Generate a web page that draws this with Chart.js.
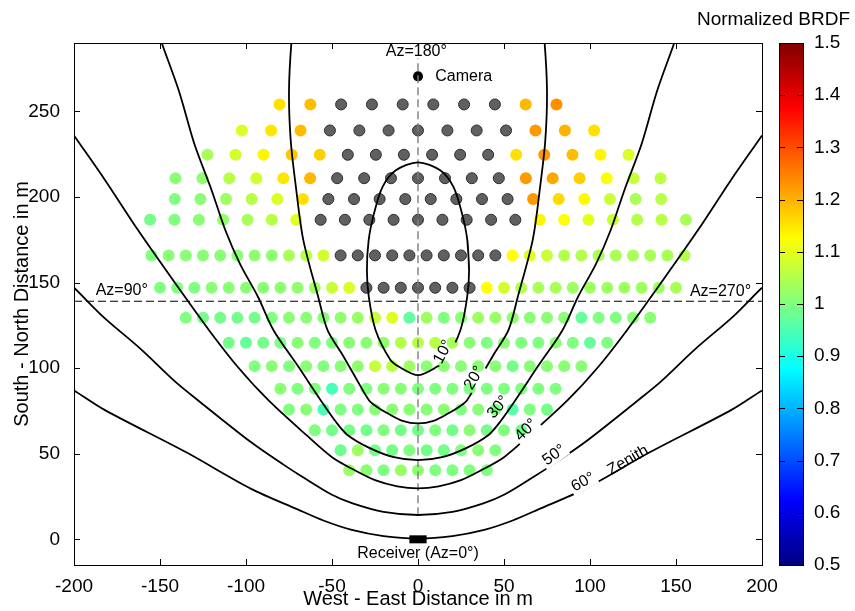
<!DOCTYPE html>
<html lang="en">
<head>
<meta charset="UTF-8">
<title>Normalized BRDF map</title>
<script src="https://cdn.jsdelivr.net/npm/chart.js"></script>
<style>
  body { margin: 0; background: #fff; }
  #wrap { position: relative; width: 855px; height: 611px; }
  #wrap canvas { position: absolute; top: 0; }
</style>
</head>
<body>
<div id="wrap">
  <canvas id="map" width="855" height="611" style="left:0"></canvas>
  <canvas id="bar" width="175" height="611" style="left:680px"></canvas>
</div>
<script>
// south-north position of each row of spots (m)
const rowY = [254.1, 238.9, 224.7, 211.0, 198.8, 186.7, 165.9, 147.0, 129.5, 114.9, 101.2, 88.0, 75.8, 63.7, 52.0, 40.3];

// west-east position of the spots in each row (m)
const rowX = [
  [-80.5, -62.6, -44.7, -26.8, -8.9, 8.9, 26.8, 44.7, 62.6, 80.5],
  [-102.4, -85.4, -68.3, -51.2, -34.1, -17.1, 0, 17.1, 34.1, 51.2, 68.3, 85.4, 102.4],
  [-122.4, -106.1, -89.8, -73.4, -57.1, -40.8, -24.5, -8.2, 8.2, 24.5, 40.8, 57.1, 73.4, 89.8, 106.1, 122.4],
  [-141, -125.3, -109.7, -94, -78.3, -62.7, -47, -31.3, -15.7, 0, 15.7, 31.3, 47, 62.7, 78.3, 94, 109.7, 125.3, 141],
  [-141.4, -126.5, -111.6, -96.7, -81.8, -66.9, -52.1, -37.2, -22.3, -7.4, 7.4, 22.3, 37.2, 52.1, 66.9, 81.8, 96.7, 111.6, 126.5, 141.4],
  [-155.8, -141.6, -127.4, -113.3, -99.1, -85, -70.8, -56.6, -42.5, -28.3, -14.2, 0, 14.2, 28.3, 42.5, 56.6, 70.8, 85, 99.1, 113.3, 127.4, 141.6, 155.8],
  [-155, -145, -135, -125, -115, -105, -95, -85, -75, -65, -55, -45, -35, -25, -15, -5, 5, 15, 25, 35, 45, 55, 65, 75, 85, 95, 105, 115, 125, 135, 145, 155],
  [-150, -140, -130, -120, -110, -100, -90, -80, -70, -60, -50, -40, -30, -20, -10, 0, 10, 20, 30, 40, 50, 60, 70, 80, 90, 100, 110, 120, 130, 140, 150],
  [-135, -125, -115, -105, -95, -85, -75, -65, -55, -45, -35, -25, -15, -5, 5, 15, 25, 35, 45, 55, 65, 75, 85, 95, 105, 115, 125, 135],
  [-110, -100, -90, -80, -70, -60, -50, -40, -30, -20, -10, 0, 10, 20, 30, 40, 50, 60, 70, 80, 90, 100, 110],
  [-95, -85, -75, -65, -55, -45, -35, -25, -15, -5, 5, 15, 25, 35, 45, 55, 65, 75, 85, 95],
  [-80, -70, -60, -50, -40, -30, -20, -10, 0, 10, 20, 30, 40, 50, 60, 70, 80],
  [-75, -65, -55, -45, -35, -25, -15, -5, 5, 15, 25, 35, 45, 55, 65, 75],
  [-60, -50, -40, -30, -20, -10, 0, 10, 20, 30, 40, 50, 60],
  [-45, -35, -25, -15, -5, 5, 15, 25, 35, 45],
  [-40, -30, -20, -10, 0, 10, 20, 30, 40]
];

// normalized BRDF of each spot, null = no value (grey spot)
const brdf = [
  [1.155, 1.19, null, null, null, null, null, null, 1.195, 1.235],
  [1.09, 1.15, 1.19, null, null, null, null, null, null, null, 1.225, 1.2, 1.155],
  [1.04, 1.08, 1.135, 1.18, 1.17, null, null, null, null, null, null, 1.155, 1.225, 1.19, 1.135, 1.09],
  [1.01, 1.016, 1.055, 1.08, 1.15, 1.195, null, null, null, null, null, null, null, 1.225, 1.21, 1.17, 1.12, 1.07, 1.06],
  [1.0, 1.01, 1.03, 1.055, 1.09, 1.155, null, null, null, null, null, null, null, null, 1.225, 1.16, 1.13, 1.07, 1.04, 1.055],
  [0.99, 1.0, 1.01, 1.016, 1.04, 1.055, 1.095, null, null, null, null, null, null, null, null, null, 1.135, 1.125, 1.1, 1.07, 1.05, 1.055, 1.04],
  [1.0, 1.01, 1.01, 1.01, 1.01, 1.01, 1.016, 1.016, 1.04, 1.055, 1.08, null, null, null, null, null, null, null, null, null, null, 1.125, 1.095, 1.07, 1.05, 1.05, 1.04, 1.04, 1.04, 1.04, 1.04, 1.05],
  [1.0, 1.0, 1.0, 1.01, 1.01, 1.01, 1.01, 1.016, 1.016, 1.03, 1.07, 1.09, null, null, null, null, null, null, null, 1.125, 1.08, 1.05, 1.04, 1.04, 1.03, 1.03, 1.03, 1.03, 1.03, 1.03, 1.04],
  [1.0, 0.99, 0.99, 0.99, 0.99, 1.0, 1.01, 1.01, 1.01, 1.016, 1.025, 1.07, 1.095, 0.97, 1.03, 1.0, 1.01, 1.03, 1.025, 1.016, 1.01, 1.01, 1.01, 0.975, 1.0, 1.0, 1.01, 1.01],
  [0.99, 0.975, 0.99, 1.0, 1.01, 1.0, 1.0, 1.01, 1.01, 1.016, 1.05, 1.055, 1.055, 1.04, 1.01, 1.0, 1.01, 1.0, 1.0, 1.01, 1.0, 0.975, 1.0],
  [1.0, 1.01, 1.0, 1.01, 1.0, 1.01, 1.016, 1.07, 1.055, 1.03, 1.01, 1.01, 1.01, 1.01, 1.01, 0.99, 1.01, 1.01, 1.01, 1.01],
  [1.01, 1.0, 1.0, 0.945, 1.0, 1.0, 1.01, 1.01, 1.0, 1.0, 1.0, 1.0, 1.0, 1.0, 1.0, 1.0, 1.0],
  [1.0, 1.01, 0.95, 1.0, 1.0, 1.01, 1.01, 1.01, 1.01, 1.01, 1.0, 1.01, 1.0, 0.96, 1.0, 0.99],
  [1.0, 0.99, 0.99, 0.99, 1.0, 0.99, 0.99, 1.0, 0.99, 1.01, 0.99, 1.0, 0.99],
  [0.985, 1.03, 0.99, 0.99, 1.0, 0.99, 0.99, 1.0, 1.01, 1.0],
  [1.025, 1.01, 1.0, 1.025, 1.016, 1.0, 1.0, 1.0, 1.0]
];

// zenith angle contours [x, y] in m
const zen10 = [[29.7,157.2],[28.7,174.7],[25.6,190.3],[20.6,205.9],[12.9,215.6],[0,220.3],[-12.9,215.6],[-20.6,205.9],[-25.6,190.3],[-28.7,174.7],[-29.7,157.2],[-28.6,141.6],[-24.7,122.3],[-16.1,104.9],[-11,100.8],[0,95.9],[11,100.8],[16.1,104.9],[24.7,122.3],[28.6,141.6],[29.7,157.2],[28.7,174.7]];
const zen20 = [[-72,300],[-73.5,291.5],[-75,262],[-74,233],[-71,206],[-66.7,175],[-58,141.6],[-52.6,122.2],[-44,108],[-36,94],[-28.5,81.3],[-24,77.5],[-17.5,73.5],[-9,69.2],[0,67.7],[9,69.2],[17.5,73.5],[24,77.5],[28.5,81.3],[36,94],[44,108],[52.6,122.2],[58,141.6],[66.7,175],[71,206],[74,233],[75,262],[73.5,291.5],[72,300]];
const zen30 = [[-152,300],[-149.5,291.5],[-139,262],[-130,231],[-120,204],[-112,180.6],[-103.5,161],[-93,141.6],[-84,122.2],[-70,101.5],[-56.6,81.3],[-48,69],[-41,61],[-28,53.3],[-14,48],[0,46.3],[14,48],[28,53.3],[41,61],[48,69],[56.6,81.3],[70,101.5],[84,122.2],[93,141.6],[103.5,161],[112,180.6],[120,204],[130,231],[139,262],[149.5,291.5],[152,300]];
const zen40 = [[-206,245],[-200,236],[-182,210],[-163,181],[-140,148],[-121.5,122.2],[-105,101],[-87,81.3],[-65,61],[-50,48],[-37,40.5],[-25,34.6],[-12,31],[0,29.8],[12,31],[25,34.6],[37,40.5],[50,48],[65,61],[87,81.3],[105,101],[121.5,122.2],[140,148],[163,181],[182,210],[200,236],[206,245]];
const zen50 = [[-206,152],[-200,147],[-183,130],[-161,111],[-141,92],[-128,81.3],[-97.4,57],[-78,43.5],[-68,37],[-50,26],[-38,21],[-20,16],[0,14.2],[20,16],[38,21],[50,26],[68,37],[78,43.5],[97.4,57],[128,81.3],[141,92],[161,111],[183,130],[200,147],[206,152]];
const zen60 = [[-206,90.5],[-200,87],[-182,75.5],[-135,51],[-97,29.5],[-70,17.5],[-55,11],[-38.5,5.5],[-20,1.9],[0,0.5],[20,1.9],[38.5,5.5],[55,11],[70,17.5],[97,29.5],[135,51],[182,75.5],[200,87],[206,90.5]];

const zenLabels = [
  { text: '10°', x: 14.7, y: 109.5, angle: -62, gap: true },
  { text: '20°', x: 32.7, y: 94.2, angle: -60, gap: true },
  { text: '30°', x: 46.6, y: 77.2, angle: -50, gap: true },
  { text: '40°', x: 62.9, y: 63.8, angle: -44, gap: true },
  { text: '50°', x: 79.1, y: 49.2, angle: -35, gap: true },
  { text: '60°', x: 96, y: 33.4, angle: -28, gap: true },
  { text: 'Zenith', x: 122.1, y: 46.2, angle: -30, gap: false }
];

const notes = [
  { text: 'Az=180°', x: -1, y: 284.7, align: 'center' },
  { text: 'Camera', x: 10, y: 270.2, align: 'left' },
  { text: 'Az=90°', x: -187.4, y: 145.6, align: 'left' },
  { text: 'Az=270°', x: 158.1, y: 144.6, align: 'left' },
  { text: 'Receiver (Az=0°)', x: 0, y: -8.6, align: 'center' }
];

const camera = [{ x: 0, y: 270.5 }];
const receiver = [{ x: -5, y: 0 }, { x: 5, y: 0 }];
const azNorth = [{ x: 0, y: 14 }, { x: 0, y: 281 }];
const azEastWest = [{ x: -200, y: 139.1 }, { x: 200, y: 139.1 }];

const FONT = "'Liberation Sans', Arial, sans-serif";
Chart.defaults.font.family = FONT;
Chart.defaults.color = '#000';

function jet(v) {
  const t = Math.min(1, Math.max(0, v - 0.5));
  const f = c => Math.round(255 * Math.min(1, Math.max(0, 1.5 - Math.abs(4 * t - c))));
  return 'rgb(' + f(3) + ',' + f(2) + ',' + f(1) + ')';
}

const spots = [];
rowY.forEach((y, i) => rowX[i].forEach((x, j) => spots.push({ x: x, y: y, v: brdf[i][j] })));

function curve(pts) {
  return {
    data: pts.map(p => ({ x: p[0], y: p[1] })),
    showLine: true, gapped: true, pointRadius: 0, borderColor: '#000',
    borderWidth: 1.8, tension: 0.3, clip: 0, order: 0
  };
}

function labelBox(ctx, l, xs, ys) {
  const w = ctx.measureText(l.text).width / 2 + 2, h = 8;
  const cx = xs.getPixelForValue(l.x), cy = ys.getPixelForValue(l.y);
  const a = l.angle * Math.PI / 180, c = Math.cos(a), s = Math.sin(a);
  return [[-w, -h], [w, -h], [w, h], [-w, h]].map(p => [cx + p[0] * c - p[1] * s, cy + p[0] * s + p[1] * c]);
}

const mapDecor = {
  id: 'mapDecor',
  beforeDatasetDraw(chart, args) {
    if (!chart.data.datasets[args.index].gapped) return;
    const { ctx, scales } = chart;
    ctx.save();
    ctx.font = '16px ' + FONT;
    ctx.beginPath();
    ctx.rect(0, 0, chart.width, chart.height);
    zenLabels.filter(l => l.gap).forEach(l => {
      const b = labelBox(ctx, l, scales.x, scales.y);
      ctx.moveTo(b[0][0], b[0][1]);
      for (let k = 1; k < 4; k++) ctx.lineTo(b[k][0], b[k][1]);
      ctx.closePath();
    });
    ctx.clip('evenodd');
  },
  afterDatasetDraw(chart, args) {
    if (chart.data.datasets[args.index].gapped) chart.ctx.restore();
  },
  afterDatasetsDraw(chart) {
    const { ctx, scales: { x, y } } = chart;
    ctx.save();
    ctx.fillStyle = '#000';
    ctx.font = '16px ' + FONT;
    ctx.textBaseline = 'middle';
    notes.forEach(n => {
      ctx.textAlign = n.align;
      ctx.fillText(n.text, x.getPixelForValue(n.x), y.getPixelForValue(n.y));
    });
    ctx.textAlign = 'center';
    zenLabels.forEach(l => {
      ctx.save();
      ctx.translate(x.getPixelForValue(l.x), y.getPixelForValue(l.y));
      ctx.rotate(l.angle * Math.PI / 180);
      ctx.fillText(l.text, 0, 0);
      ctx.restore();
    });
    ctx.restore();
  },
  afterDraw(chart) {
    const { ctx, chartArea: a, scales: { x, y } } = chart;
    ctx.save();
    ctx.strokeStyle = '#000';
    ctx.lineWidth = 1;
    ctx.strokeRect(Math.round(a.left) + 0.5, Math.round(a.top) + 0.5, Math.round(a.right - a.left), Math.round(a.bottom - a.top));
    ctx.beginPath();
    x.ticks.forEach(t => {
      const px = Math.round(x.getPixelForValue(t.value)) + 0.5;
      ctx.moveTo(px, a.bottom); ctx.lineTo(px, a.bottom - 6);
      ctx.moveTo(px, a.top); ctx.lineTo(px, a.top + 6);
    });
    y.ticks.forEach(t => {
      const py = Math.round(y.getPixelForValue(t.value)) + 0.5;
      ctx.moveTo(a.left, py); ctx.lineTo(a.left + 6, py);
      ctx.moveTo(a.right, py); ctx.lineTo(a.right - 6, py);
    });
    ctx.stroke();
    ctx.restore();
  }
};

new Chart(document.getElementById('map'), {
  type: 'scatter',
  data: {
    datasets: [
      curve(zen10), curve(zen20), curve(zen30), curve(zen40), curve(zen50), curve(zen60),
      { data: azNorth, showLine: true, pointRadius: 0, borderColor: '#808080', borderWidth: 1.4, borderDash: [8, 4], order: 1 },
      { data: azEastWest, showLine: true, pointRadius: 0, borderColor: '#000', borderWidth: 1.1, borderDash: [8, 4], order: 1 },
      { data: receiver, showLine: true, pointRadius: 0, borderColor: '#000', borderWidth: 8, borderCapStyle: 'butt', order: 1 },
      { data: camera, pointRadius: 5, backgroundColor: '#000', borderWidth: 0, order: 1 },
      {
        data: spots, order: 2,
        pointRadius: c => c.raw && c.raw.v === null ? 5.5 : 6,
        pointBackgroundColor: c => c.raw && c.raw.v !== null ? jet(c.raw.v) : '#606060',
        pointBorderColor: c => c.raw && c.raw.v !== null ? jet(c.raw.v) : '#2e2e2e',
        pointBorderWidth: c => c.raw && c.raw.v === null ? 1 : 0
      }
    ]
  },
  options: {
    responsive: false,
    animation: false,
    events: [],
    layout: { padding: { top: 43, right: 93, left: 0, bottom: 0 } },
    plugins: { legend: { display: false }, tooltip: { enabled: false } },
    scales: {
      x: {
        type: 'linear', min: -200, max: 200,
        ticks: { stepSize: 50, maxRotation: 0, autoSkip: false, padding: 2, font: { size: 19 } },
        grid: { display: false }, border: { display: false },
        title: { display: true, text: 'West - East Distance in m', font: { size: 20 }, padding: { top: 0, bottom: 0 } },
        afterFit: s => { s.height = 46; }
      },
      y: {
        type: 'linear', min: -15, max: 290,
        ticks: { stepSize: 50, includeBounds: false, padding: 6, font: { size: 19 } },
        grid: { display: false }, border: { display: false },
        title: { display: true, text: 'South - North Distance in m', font: { size: 20 }, padding: { top: 10, bottom: 0 } },
        afterFit: s => { s.width = 74; }
      }
    }
  },
  plugins: [mapDecor]
});

// colour bar
const cbRange = [0.5, 1.5];
const cbTitle = 'Normalized BRDF';

const barDecor = {
  id: 'barDecor',
  afterDatasetsDraw(chart) {
    const { ctx, chartArea: a, scales: { y } } = chart;
    ctx.save();
    ctx.strokeStyle = '#000';
    ctx.lineWidth = 1;
    ctx.strokeRect(Math.round(a.left) + 0.5, Math.round(a.top) + 0.5, Math.round(a.right - a.left), Math.round(a.bottom - a.top));
    ctx.beginPath();
    y.ticks.forEach(t => {
      const py = Math.round(y.getPixelForValue(t.value)) + 0.5;
      ctx.moveTo(a.left, py); ctx.lineTo(a.left + 6, py);
      ctx.moveTo(a.right, py); ctx.lineTo(a.right - 6, py);
    });
    ctx.stroke();
    ctx.fillStyle = '#000';
    ctx.font = '19px ' + FONT;
    ctx.textAlign = 'right';
    ctx.textBaseline = 'middle';
    ctx.fillText(cbTitle, 170, 20);
    ctx.restore();
  }
};

new Chart(document.getElementById('bar'), {
  type: 'bar',
  data: {
    labels: [''],
    datasets: [{
      data: [cbRange],
      barPercentage: 1, categoryPercentage: 1, borderWidth: 0,
      backgroundColor: c => {
        const a = c.chart.chartArea;
        if (!a) return '#00f';
        const g = c.chart.ctx.createLinearGradient(0, a.bottom, 0, a.top);
        g.addColorStop(0, 'rgb(0,0,128)');
        g.addColorStop(0.125, 'rgb(0,0,255)');
        g.addColorStop(0.375, 'rgb(0,255,255)');
        g.addColorStop(0.625, 'rgb(255,255,0)');
        g.addColorStop(0.875, 'rgb(255,0,0)');
        g.addColorStop(1, 'rgb(128,0,0)');
        return g;
      }
    }]
  },
  options: {
    responsive: false,
    animation: false,
    events: [],
    layout: { padding: { left: 99, top: 43, bottom: 46, right: 0 } },
    plugins: { legend: { display: false }, tooltip: { enabled: false } },
    scales: {
      x: { display: false },
      y: {
        position: 'right', min: cbRange[0], max: cbRange[1],
        ticks: { stepSize: 0.1, padding: 3, font: { size: 19 }, callback: v => String(Math.round(v * 10) / 10) },
        grid: { display: false }, border: { display: false },
        afterFit: s => { s.width = 52; }
      }
    }
  },
  plugins: [barDecor]
});
</script>
</body>
</html>
